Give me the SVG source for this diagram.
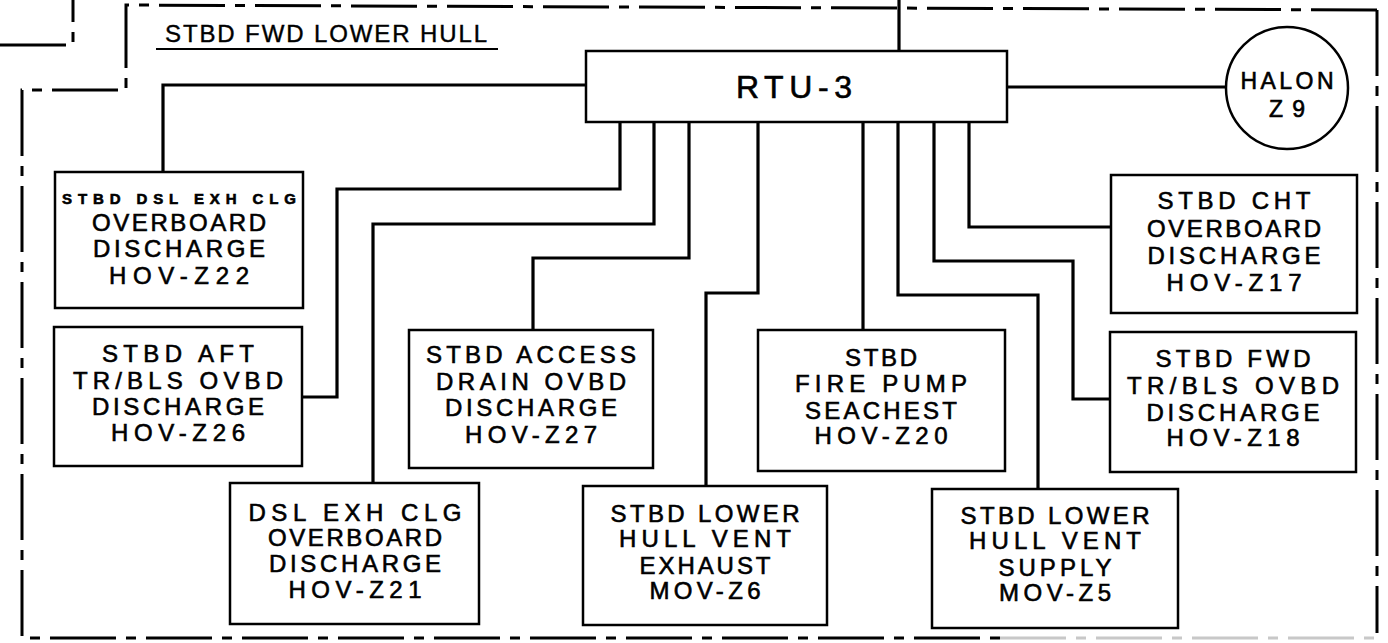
<svg xmlns="http://www.w3.org/2000/svg" width="1388" height="643" viewBox="0 0 1388 643">
<style>
.bnd{fill:none;stroke:#000;stroke-width:3;stroke-dasharray:66 10 10 10}
.box{fill:#fff;stroke:#000;stroke-width:2.5}
.con{fill:none;stroke:#000;stroke-width:3.2;stroke-linejoin:miter}
.t{font-family:"Liberation Sans",Arial,sans-serif;font-size:24px;text-anchor:middle;fill:#000;stroke:#000;stroke-width:0.6}
.s{font-size:15px;font-weight:bold}
</style>
<rect width="1388" height="643" fill="#fff"/>
<g id="boundary">
<path class="bnd" d="M0,45 H73 V0"/>
<path class="bnd" d="M1377,10 L126,5 V90 H22 V638 H1000"/>
<path class="bnd" style="stroke:#c8c8c8" d="M1000,638 H1377"/>
<path class="bnd" d="M1377,10 V633"/>
<text x="165" y="42" textLength="322" lengthAdjust="spacing" style="font-family:'Liberation Sans',Arial,sans-serif;font-size:24px;fill:#000;stroke:#000;stroke-width:0.4">STBD FWD LOWER HULL</text>
<line x1="156" y1="49" x2="498" y2="49" stroke="#000" stroke-width="2.2"/>
</g>
<g id="connectors">
<path class="con" d="M899,0 V51"/>
<path class="con" d="M586,85 H163 V172"/>
<path class="con" d="M620,122 V189 H337 V397 H303"/>
<path class="con" d="M654,122 V224 H373 V483"/>
<path class="con" d="M689,122 V258 H533 V330"/>
<path class="con" d="M758,122 V293 H706 V486"/>
<path class="con" d="M863,122 V330"/>
<path class="con" d="M898,122 V295 H1038 V489"/>
<path class="con" d="M934,122 V261 H1073 V399 H1110"/>
<path class="con" d="M969,122 V227 H1111"/>
<path class="con" d="M1007,87 H1226"/>
</g>
<g id="rtu3">
<rect class="box" x="586" y="51" width="421" height="71"/>
<text class="t" x="794" y="98" textLength="116" lengthAdjust="spacing" style="font-size:32px">RTU-3</text>
</g>
<g id="halon-z9">
<circle cx="1287" cy="88" r="61" fill="#fff" stroke="#000" stroke-width="2.5"/>
<text class="t" x="1287" y="89" textLength="93" lengthAdjust="spacing" style="font-size:23px">HALON</text>
<text class="t" x="1287" y="117" textLength="36" lengthAdjust="spacing" style="font-size:23px">Z9</text>
</g>
<g id="hov-z22">
<rect class="box" x="55" y="172" width="248" height="136"/>
<text class="t s" x="179" y="204" textLength="234" lengthAdjust="spacing">STBD DSL EXH CLG</text>
<text class="t" x="179" y="231" textLength="174" lengthAdjust="spacing">OVERBOARD</text>
<text class="t" x="179" y="257" textLength="172" lengthAdjust="spacing">DISCHARGE</text>
<text class="t" x="179" y="284" textLength="140" lengthAdjust="spacing">HOV-Z22</text>
</g>
<g id="hov-z26">
<rect class="box" x="54" y="327" width="248" height="139"/>
<text class="t" x="178" y="362" textLength="152" lengthAdjust="spacing">STBD AFT</text>
<text class="t" x="178" y="389" textLength="210" lengthAdjust="spacing">TR/BLS OVBD</text>
<text class="t" x="178" y="415" textLength="172" lengthAdjust="spacing">DISCHARGE</text>
<text class="t" x="178" y="441" textLength="134" lengthAdjust="spacing">HOV-Z26</text>
</g>
<g id="hov-z27">
<rect class="box" x="409" y="330" width="244" height="138"/>
<text class="t" x="531" y="363" textLength="210" lengthAdjust="spacing">STBD ACCESS</text>
<text class="t" x="531" y="390" textLength="190" lengthAdjust="spacing">DRAIN OVBD</text>
<text class="t" x="531" y="416" textLength="172" lengthAdjust="spacing">DISCHARGE</text>
<text class="t" x="531" y="443" textLength="132" lengthAdjust="spacing">HOV-Z27</text>
</g>
<g id="hov-z21">
<rect class="box" x="230" y="483" width="249" height="141"/>
<text class="t" x="355" y="521" textLength="213" lengthAdjust="spacing">DSL EXH CLG</text>
<text class="t" x="355" y="546" textLength="174" lengthAdjust="spacing">OVERBOARD</text>
<text class="t" x="355" y="572" textLength="172" lengthAdjust="spacing">DISCHARGE</text>
<text class="t" x="355" y="598" textLength="133" lengthAdjust="spacing">HOV-Z21</text>
</g>
<g id="mov-z6">
<rect class="box" x="583" y="486" width="244" height="139"/>
<text class="t" x="705" y="522" textLength="189" lengthAdjust="spacing">STBD LOWER</text>
<text class="t" x="705" y="547" textLength="172" lengthAdjust="spacing">HULL VENT</text>
<text class="t" x="705" y="574" textLength="131" lengthAdjust="spacing">EXHAUST</text>
<text class="t" x="705" y="599" textLength="111" lengthAdjust="spacing">MOV-Z6</text>
</g>
<g id="hov-z20">
<rect class="box" x="758" y="330" width="247" height="141"/>
<text class="t" x="881" y="366" textLength="72" lengthAdjust="spacing">STBD</text>
<text class="t" x="881" y="392" textLength="172" lengthAdjust="spacing">FIRE PUMP</text>
<text class="t" x="881" y="419" textLength="152" lengthAdjust="spacing">SEACHEST</text>
<text class="t" x="881" y="444" textLength="133" lengthAdjust="spacing">HOV-Z20</text>
</g>
<g id="mov-z5">
<rect class="box" x="932" y="489" width="246" height="139"/>
<text class="t" x="1055" y="524" textLength="189" lengthAdjust="spacing">STBD LOWER</text>
<text class="t" x="1055" y="549" textLength="172" lengthAdjust="spacing">HULL VENT</text>
<text class="t" x="1055" y="576" textLength="113" lengthAdjust="spacing">SUPPLY</text>
<text class="t" x="1055" y="601" textLength="112" lengthAdjust="spacing">MOV-Z5</text>
</g>
<g id="hov-z18">
<rect class="box" x="1110" y="332" width="246" height="140"/>
<text class="t" x="1233" y="367" textLength="155" lengthAdjust="spacing">STBD FWD</text>
<text class="t" x="1233" y="394" textLength="212" lengthAdjust="spacing">TR/BLS OVBD</text>
<text class="t" x="1233" y="421" textLength="173" lengthAdjust="spacing">DISCHARGE</text>
<text class="t" x="1233" y="446" textLength="133" lengthAdjust="spacing">HOV-Z18</text>
</g>
<g id="hov-z17">
<rect class="box" x="1111" y="175" width="246" height="138"/>
<text class="t" x="1234" y="209" textLength="153" lengthAdjust="spacing">STBD CHT</text>
<text class="t" x="1234" y="237" textLength="174" lengthAdjust="spacing">OVERBOARD</text>
<text class="t" x="1234" y="264" textLength="173" lengthAdjust="spacing">DISCHARGE</text>
<text class="t" x="1234" y="291" textLength="135" lengthAdjust="spacing">HOV-Z17</text>
</g>
</svg>
